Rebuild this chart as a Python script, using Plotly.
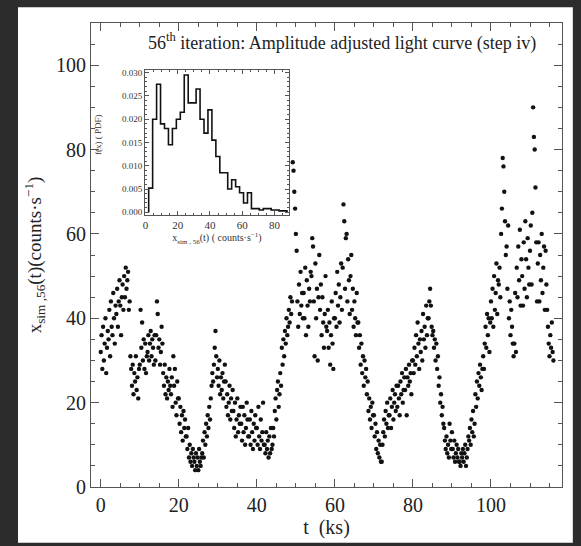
import numpy as np
import plotly.graph_objects as go

# ---- simulated light curve (56th iteration), 0.2 ks bins ----
t_start = 0.0
t_step = 0.2
rate = [
    32, 36, 28, 38, 30, 34, 40, 27, 33, 37,   # 0-2 ks
    35, 42, 31, 44, 38, 36, 46, 40, 34, 43,   # 2-4
    41, 47, 38, 44, 49, 43, 36, 45, 48, 42,   # 4-6
    50, 45, 52, 47, 49, 51, 42, 44, 31, 28,   # 6-8
    24, 29, 22, 27, 25, 31, 23, 26, 21, 28,   # 8-10
    29, 42, 33, 39, 30, 35, 28, 34, 27, 31,   # 10-12
    32, 36, 30, 34, 37, 31, 35, 33, 29, 36,   # 12-14
    30, 36, 44, 41, 33, 35, 29, 32, 38, 34,   # 14-16
    27, 24, 29, 22, 26, 21, 25, 23, 28, 24,   # 16-18
    22, 26, 19, 31, 24, 28, 20, 17, 25, 21,   # 18-20
    21, 15, 19, 13, 17, 11, 18, 14, 16, 12,   # 20-22
    12, 9, 14, 7, 10, 6, 8, 5, 9, 7,          # 22-24
    6, 4, 8, 5, 7, 4, 9, 6, 5, 7,             # 24-26
    8, 11, 7, 13, 10, 15, 12, 17, 14, 19,     # 26-28
    16, 21, 24, 27, 25, 29, 33, 37, 31, 26,   # 28-30
    28, 24, 30, 22, 26, 23, 27, 21, 25, 29,   # 30-32
    25, 19, 22, 17, 20, 24, 16, 21, 18, 23,   # 32-34
    18, 14, 20, 12, 16, 21, 13, 17, 15, 19,   # 34-36
    15, 11, 19, 13, 17, 10, 14, 20, 16, 12,   # 36-38
    12, 16, 10, 18, 13, 9, 15, 11, 17, 14,    # 38-40
    14, 10, 19, 12, 9, 16, 11, 13, 20, 10,    # 40-42
    10, 8, 13, 9, 11, 7, 12, 8, 14, 9,        # 42-44
    10, 14, 12, 18, 21, 16, 23, 25, 19, 22,   # 44-46
    27, 24, 33, 29, 35, 31, 37, 34, 40, 36,   # 46-48
    38, 42, 39, 45, 41, 44, 77, 75, 70, 66,   # 48-50
    60, 56, 44, 38, 48, 41, 51, 43, 46, 40,   # 50-52
    46, 40, 52, 36, 49, 43, 38, 47, 44, 51,   # 52-54
    50, 59, 57, 44, 31, 53, 40, 47, 30, 45,   # 54-56
    55, 42, 48, 36, 45, 39, 33, 41, 50, 38,   # 56-58
    37, 42, 33, 39, 29, 36, 44, 34, 28, 40,   # 58-60
    40, 46, 38, 51, 43, 48, 39, 45, 53, 42,   # 60-62
    52, 67, 63, 47, 59, 60, 44, 54, 49, 41,   # 62-64
    50, 55, 42, 47, 38, 44, 40, 36, 46, 39,   # 64-66
    39, 33, 36, 29, 34, 27, 31, 24, 30, 26,   # 66-68
    28, 22, 25, 18, 21, 16, 19, 14, 20, 17,   # 68-70
    17, 12, 15, 9, 13, 8, 11, 7, 10, 6,       # 70-72
    6, 10, 13, 16, 12, 18, 15, 20, 14, 17,    # 72-74
    17, 21, 14, 19, 23, 16, 20, 22, 18, 24,   # 74-76
    19, 24, 21, 17, 25, 22, 27, 20, 23, 26,   # 76-78
    23, 28, 17, 26, 24, 29, 25, 27, 22, 30,   # 78-80
    30, 27, 33, 29, 36, 31, 39, 34, 28, 35,   # 80-82
    32, 37, 30, 41, 35, 38, 33, 43, 36, 40,   # 82-84
    40, 44, 47, 43, 38, 36, 37, 33, 35, 30,   # 84-86
    34, 28, 31, 24, 26, 20, 22, 17, 19, 15,   # 86-88
    14, 11, 9, 12, 8, 10, 7, 15, 11, 9,       # 88-90
    13, 9, 7, 11, 6, 8, 10, 7, 9, 6,          # 90-92
    6, 5, 8, 7, 9, 6, 8, 10, 5, 7,            # 92-94
    9, 12, 11, 14, 10, 16, 13, 18, 12, 15,    # 94-96
    22, 19, 25, 21, 27, 24, 29, 26, 23, 28,   # 96-98
    31, 28, 34, 38, 33, 41, 36, 40, 32, 39,   # 98-100
    44, 40, 47, 38, 50, 42, 46, 53, 41, 49,   # 100-102
    48, 52, 45, 60, 66, 78, 76, 70, 63, 55,   # 102-104
    57, 47, 62, 40, 44, 36, 42, 38, 34, 31,   # 104-106
    34, 46, 32, 52, 45, 57, 49, 61, 43, 54,   # 106-108
    50, 43, 58, 47, 63, 54, 45, 59, 52, 48,   # 108-110
    56, 62, 48, 65, 90, 83, 80, 71, 58, 44,   # 110-112
    53, 58, 44, 55, 49, 60, 46, 52, 57, 42,   # 112-114
    56, 48, 42, 38, 34, 31, 36, 33, 39, 32,   # 114-116
    30,
]
time_ks = t_start + t_step * np.arange(len(rate))

# ---- PDF of the simulated count rates ----
bin_start = 2.0
bin_width = 2.45
pdf = [
    0.0052, 0.0200, 0.0275, 0.0190, 0.0180, 0.0145, 0.0180, 0.0200,
    0.0215, 0.0295, 0.0235, 0.0235, 0.0265, 0.0200, 0.0170, 0.0220,
    0.0155, 0.0120, 0.0085, 0.0085, 0.0050, 0.0070, 0.0055, 0.0042,
    0.0020, 0.0042, 0.0008, 0.0008, 0.0005, 0.0008, 0.0008, 0.0005,
    0.0005, 0.0003, 0.0003,
]
edges = bin_start + bin_width * np.arange(len(pdf) + 1)
step_x = np.concatenate([[edges[0]], edges])
step_y = np.concatenate([[0.0], pdf, [0.0]])

main_ticks = [0, 20, 40, 60, 80, 100]
inset_xticks = [0, 20, 40, 60, 80]
inset_yticks = [0.000, 0.005, 0.010, 0.015, 0.020, 0.025, 0.030]

SERIF = "Liberation Serif"
AX = "#555555"
INK = "#222222"

fig = go.Figure()
fig.add_trace(go.Scatter(
    x=time_ks, y=rate, mode="markers",
    marker=dict(size=4.4, color="#111111"),
    xaxis="x", yaxis="y", showlegend=False, hoverinfo="skip"))
fig.add_trace(go.Scatter(
    x=step_x, y=step_y, mode="lines", line_shape="hv",
    line=dict(color="#111111", width=1.6),
    xaxis="x2", yaxis="y2", showlegend=False, hoverinfo="skip"))

main_axis = dict(
    showgrid=False, zeroline=False, showline=True, linecolor=AX, linewidth=1.2,
    mirror="ticks", ticks="inside", ticklen=8, tickcolor=AX, tickwidth=1.1,
    tickfont=dict(family=SERIF, size=20, color=INK),
    minor=dict(ticks="inside", ticklen=4, tickcolor=AX, tickwidth=1, dtick=5),
)
inset_axis = dict(
    showgrid=False, zeroline=False, showline=True, linecolor=AX, linewidth=1,
    mirror="ticks", ticks="inside", ticklen=4, tickcolor=AX, tickwidth=1,
)

fig.update_layout(
    width=581, height=546,
    margin=dict(l=91, r=19, t=23, b=52),
    paper_bgcolor="#2c2c2c", plot_bgcolor="white",
    xaxis=dict(main_axis, range=[-2.5, 118.2], tickvals=main_ticks,
               title=dict(text="t  (ks)", font=dict(family=SERIF, size=20, color=INK),
                          standoff=4)),
    yaxis=dict(main_axis, range=[0, 110], tickvals=main_ticks,
               title=dict(text="x<sub>sim ,56</sub>(t)(counts·s<sup>−1</sup>)",
                          font=dict(family=SERIF, size=19, color=INK), standoff=9)),
    xaxis2=dict(inset_axis, domain=[0.1146, 0.4204], anchor="y2", range=[-0.3, 89],
                tickvals=inset_xticks,
                minor=dict(ticks="inside", ticklen=2, tickcolor=AX, dtick=5),
                tickfont=dict(family=SERIF, size=11, color="#333333"),
                title=dict(text="x<sub>sim , 56</sub>(t) ( counts·s<sup>−1</sup>)",
                           font=dict(family=SERIF, size=10, color="#333333"), standoff=3)),
    yaxis2=dict(inset_axis, domain=[0.586, 0.898], anchor="x2", range=[-0.0006, 0.0305],
                tickvals=inset_yticks, tickformat=".3f",
                minor=dict(ticks="inside", ticklen=2, tickcolor=AX, dtick=0.001),
                tickfont=dict(family=SERIF, size=9, color="#333333")),
    shapes=[dict(type="rect", xref="paper", yref="paper", x0=-0.155, x1=1.023,
                 y0=-0.12, y1=1.034, fillcolor="white", line=dict(width=0), layer="below")],
    annotations=[
        dict(text="56<sup>th</sup> iteration: Amplitude adjusted light curve (step iv)",
             xref="paper", yref="paper", x=0.532, y=0.958, xanchor="center", yanchor="middle",
             showarrow=False, font=dict(family=SERIF, size=18, color=INK)),
        dict(text="f(x) ( PDF)", xref="paper", yref="paper", x=0.016, y=0.76,
             textangle=-90, showarrow=False, xanchor="center", yanchor="middle",
             font=dict(family=SERIF, size=9, color="#333333")),
    ],
)

fig.write_html("out.html")
